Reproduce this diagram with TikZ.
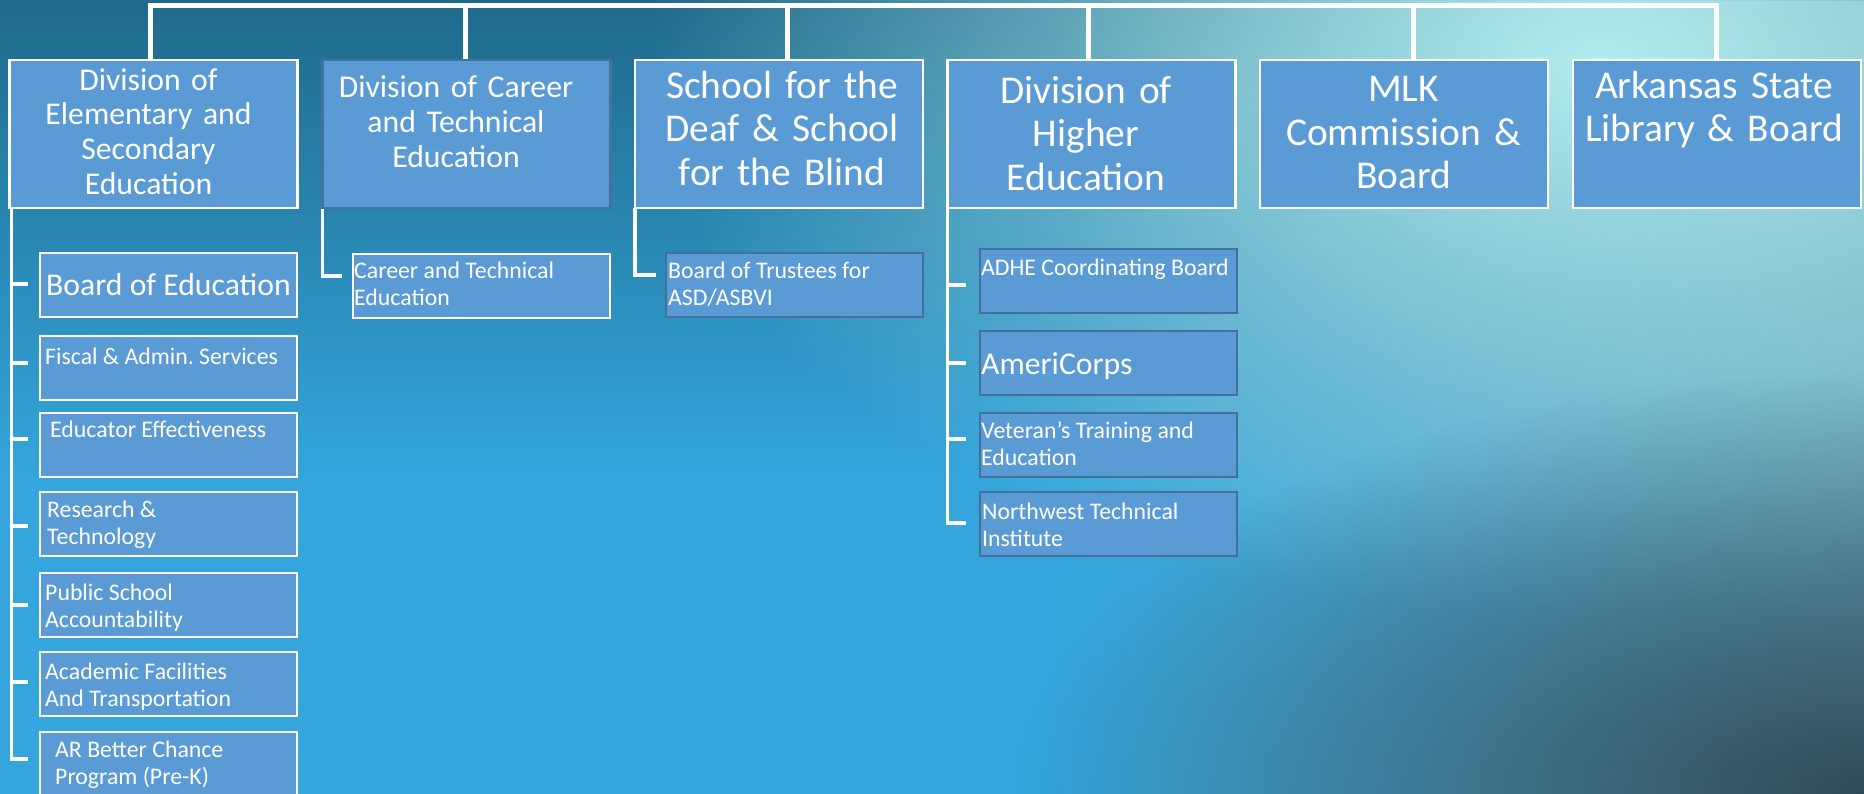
\documentclass[tikz,border=0pt]{standalone}
\usepackage{fontspec}
\setmainfont{Carlito}
\frenchspacing
\usetikzlibrary{fadings}
\definecolor{boxfill}{HTML}{5B9BD5}
\definecolor{boxdark}{HTML}{41719C}
\definecolor{bgbase}{HTML}{34A6DD}
\definecolor{bgtop}{HTML}{1F6A8A}
\definecolor{bgglow}{HTML}{B2EEF0}
\definecolor{bggrey}{HTML}{7BA7B0}
\definecolor{bgdeep}{HTML}{2F4A57}
\tikzfading[name=glowfade, inner color=transparent!0, outer color=transparent!100]
\tikzfading[name=fadeleft, left color=transparent!100, right color=transparent!0]
\pgfdeclarelayer{bg}
\pgfsetlayers{bg,main}
\begin{document}
\begin{tikzpicture}[x=1pt,y=-1pt,
  topbox/.style={draw=white, line width=2.5pt, fill=boxfill, minimum width=288pt, minimum height=148pt, anchor=north west, inner sep=0pt, outer sep=0pt},
  subbox/.style={draw=white, line width=2.5pt, fill=boxfill, minimum width=257pt, minimum height=64pt, anchor=north west, inner sep=0pt, outer sep=0pt},
  darkedge/.style={draw=boxdark},
  bigttl/.style={text=white, inner sep=0pt, anchor=north, align=center, text width=284pt, font=\fontsize{39.4}{43.3}\selectfont},
  midttl/.style={text=white, inner sep=0pt, anchor=north, align=center, text width=284pt, font=\fontsize{31.7}{34.7}\selectfont},
  subtxt/.style={text=white, inner sep=0pt, anchor=north west, align=left, font=\fontsize{23.8}{27.7}\selectfont},
  subbig/.style={text=white, inner sep=0pt, anchor=north west, align=left, font=\fontsize{31.7}{34.7}\selectfont},
  bus/.style={draw=white, line width=5pt},
  link/.style={draw=white, line width=3.5pt}]
\useasboundingbox (0,0) rectangle (1864,794);

% ---------- boxes ----------
\node[topbox] (d1) at (9.5,60) {};
\node[topbox, darkedge] (d2) at (322.5,60) {};
\node[topbox] (d3) at (635,60) {};
\node[topbox] (d4) at (947.5,60) {};
\node[topbox] (d5) at (1260,60) {};
\node[topbox] (d6) at (1573,60) {};

\node[subbox] (c1) at (40,253) {};
\node[subbox] (c2) at (40,336) {};
\node[subbox] (c3) at (40,413) {};
\node[subbox] (c4) at (40,492) {};
\node[subbox] (c5) at (40,573) {};
\node[subbox] (c6) at (40,652) {};
\node[subbox] (c7) at (40,732) {};

\node[subbox] (e1) at (353,254) {};
\node[subbox, darkedge] (f1) at (666,253) {};

\node[subbox, darkedge] (h1) at (980,249) {};
\node[subbox, darkedge] (h2) at (980,331) {};
\node[subbox, darkedge] (h3) at (980,413) {};
\node[subbox, darkedge] (h4) at (980,492) {};

% ---------- texts ----------
\node[midttl] (d1t) at (148.5,64) {\rule{0pt}{26pt}Division of\\Elementary and\\Secondary\\Education};
\node[midttl] (d2t) at (456,71.7) {\rule{0pt}{26pt}Division of Career\\and Technical\\Education};
\node[bigttl] (d3t) at (782,66.3) {\rule{0pt}{32pt}School for the\\Deaf \& School\\for the Blind};
\node[bigttl] (d4t) at (1086,71.3) {\rule{0pt}{32pt}Division of\\Higher\\Education};
\node[bigttl] (d5t) at (1403.6,69.7) {\rule{0pt}{32pt}MLK\\Commission \&\\Board};
\node[bigttl] (d6t) at (1714,66.3) {\rule{0pt}{32pt}Arkansas State\\Library \& Board};

\node[subbig] (c1t) at (46,269) {\rule{0pt}{26pt}Board of Education};
\node[subtxt] (c2t) at (45,344) {\rule{0pt}{20pt}Fiscal \& Admin. Services};
\node[subtxt] (c3t) at (50,417) {\rule{0pt}{20pt}Educator Effectiveness};
\node[subtxt] (c4t) at (47,497) {\rule{0pt}{20pt}Research \&\\Technology};
\node[subtxt] (c5t) at (45,580) {\rule{0pt}{20pt}Public School\\Accountability};
\node[subtxt] (c6t) at (45,659) {\rule{0pt}{20pt}Academic Facilities\\And Transportation};
\node[subtxt] (c7t) at (55,737) {\rule{0pt}{20pt}AR Better Chance\\Program (Pre-K)};
\node[subtxt] (e1t) at (354,258) {\rule{0pt}{20pt}Career and Technical\\Education};
\node[subtxt] (f1t) at (668,258) {\rule{0pt}{20pt}Board of Trustees for\\ASD/ASBVI};
\node[subtxt] (h1t) at (981,255) {\rule{0pt}{20pt}ADHE Coordinating Board};
\node[subbig] (h2t) at (981,348) {\rule{0pt}{26pt}AmeriCorps};
\node[subtxt] (h3t) at (981,418) {\rule{0pt}{20pt}Veteran’s Training and\\Education};
\node[subtxt] (h4t) at (982,499) {\rule{0pt}{20pt}Northwest Technical\\Institute};

% ---------- background and connectors ----------
\begin{pgfonlayer}{bg}
\begin{scope}
\clip (0,0) rectangle (1864,794);
\fill[bgbase] (0,0) rectangle (1864,794);
\shade[top color=bgtop, bottom color=bgbase] (0,0) rectangle (1864,480);
\fill[bggrey, fill opacity=0.7, path fading=fadeleft] (1050,0) rectangle (1864,794);
\fill[bgglow, path fading=glowfade] (1600,60) ellipse (950 and 560);
\fill[bgdeep, path fading=glowfade] (1864,794) ellipse (850 and 420);
\end{scope}

\coordinate (t1) at (150,6);
\coordinate (t2) at (465,6);
\coordinate (t3) at (787,6);
\coordinate (t4) at (1088,6);
\coordinate (t5) at (1413,6);
\coordinate (t6) at (1716,6);
\draw[bus] (t1 |- d1.north) -- (t1) -- (t6) -- (t6 |- d6.north);
\draw[bus] (t2) -- (t2 |- d2.north);
\draw[bus] (t3) -- (t3 |- d3.north);
\draw[bus] (t4) -- (t4 |- d4.north);
\draw[bus] (t5) -- (t5 |- d5.north);

\coordinate (s1) at (11.5,208);
\coordinate (k1) at (28,284);
\coordinate (k2) at (28,363);
\coordinate (k3) at (28,439);
\coordinate (k4) at (28,526);
\coordinate (k5) at (28,605);
\coordinate (k6) at (28,682);
\coordinate (k7) at (28,759);
\draw[link] (s1) -- (k7 -| s1) -- (k7);
\foreach \k in {k1,k2,k3,k4,k5,k6} {\draw[link] (\k -| s1) -- (\k);}

\coordinate (ke) at (342,276);
\draw[link] (d2.south west) |- (ke);
\coordinate (kf) at (656,275);
\draw[link] (d3.south west) |- (kf);

\coordinate (kh1) at (966,285);
\coordinate (kh2) at (966,363);
\coordinate (kh3) at (966,439);
\coordinate (kh4) at (966,523);
\draw[link] (d4.south west) |- (kh4);
\foreach \k in {kh1,kh2,kh3} {\draw[link] (\k -| d4.south west) -- (\k);}
\end{pgfonlayer}
\end{tikzpicture}
\end{document}
